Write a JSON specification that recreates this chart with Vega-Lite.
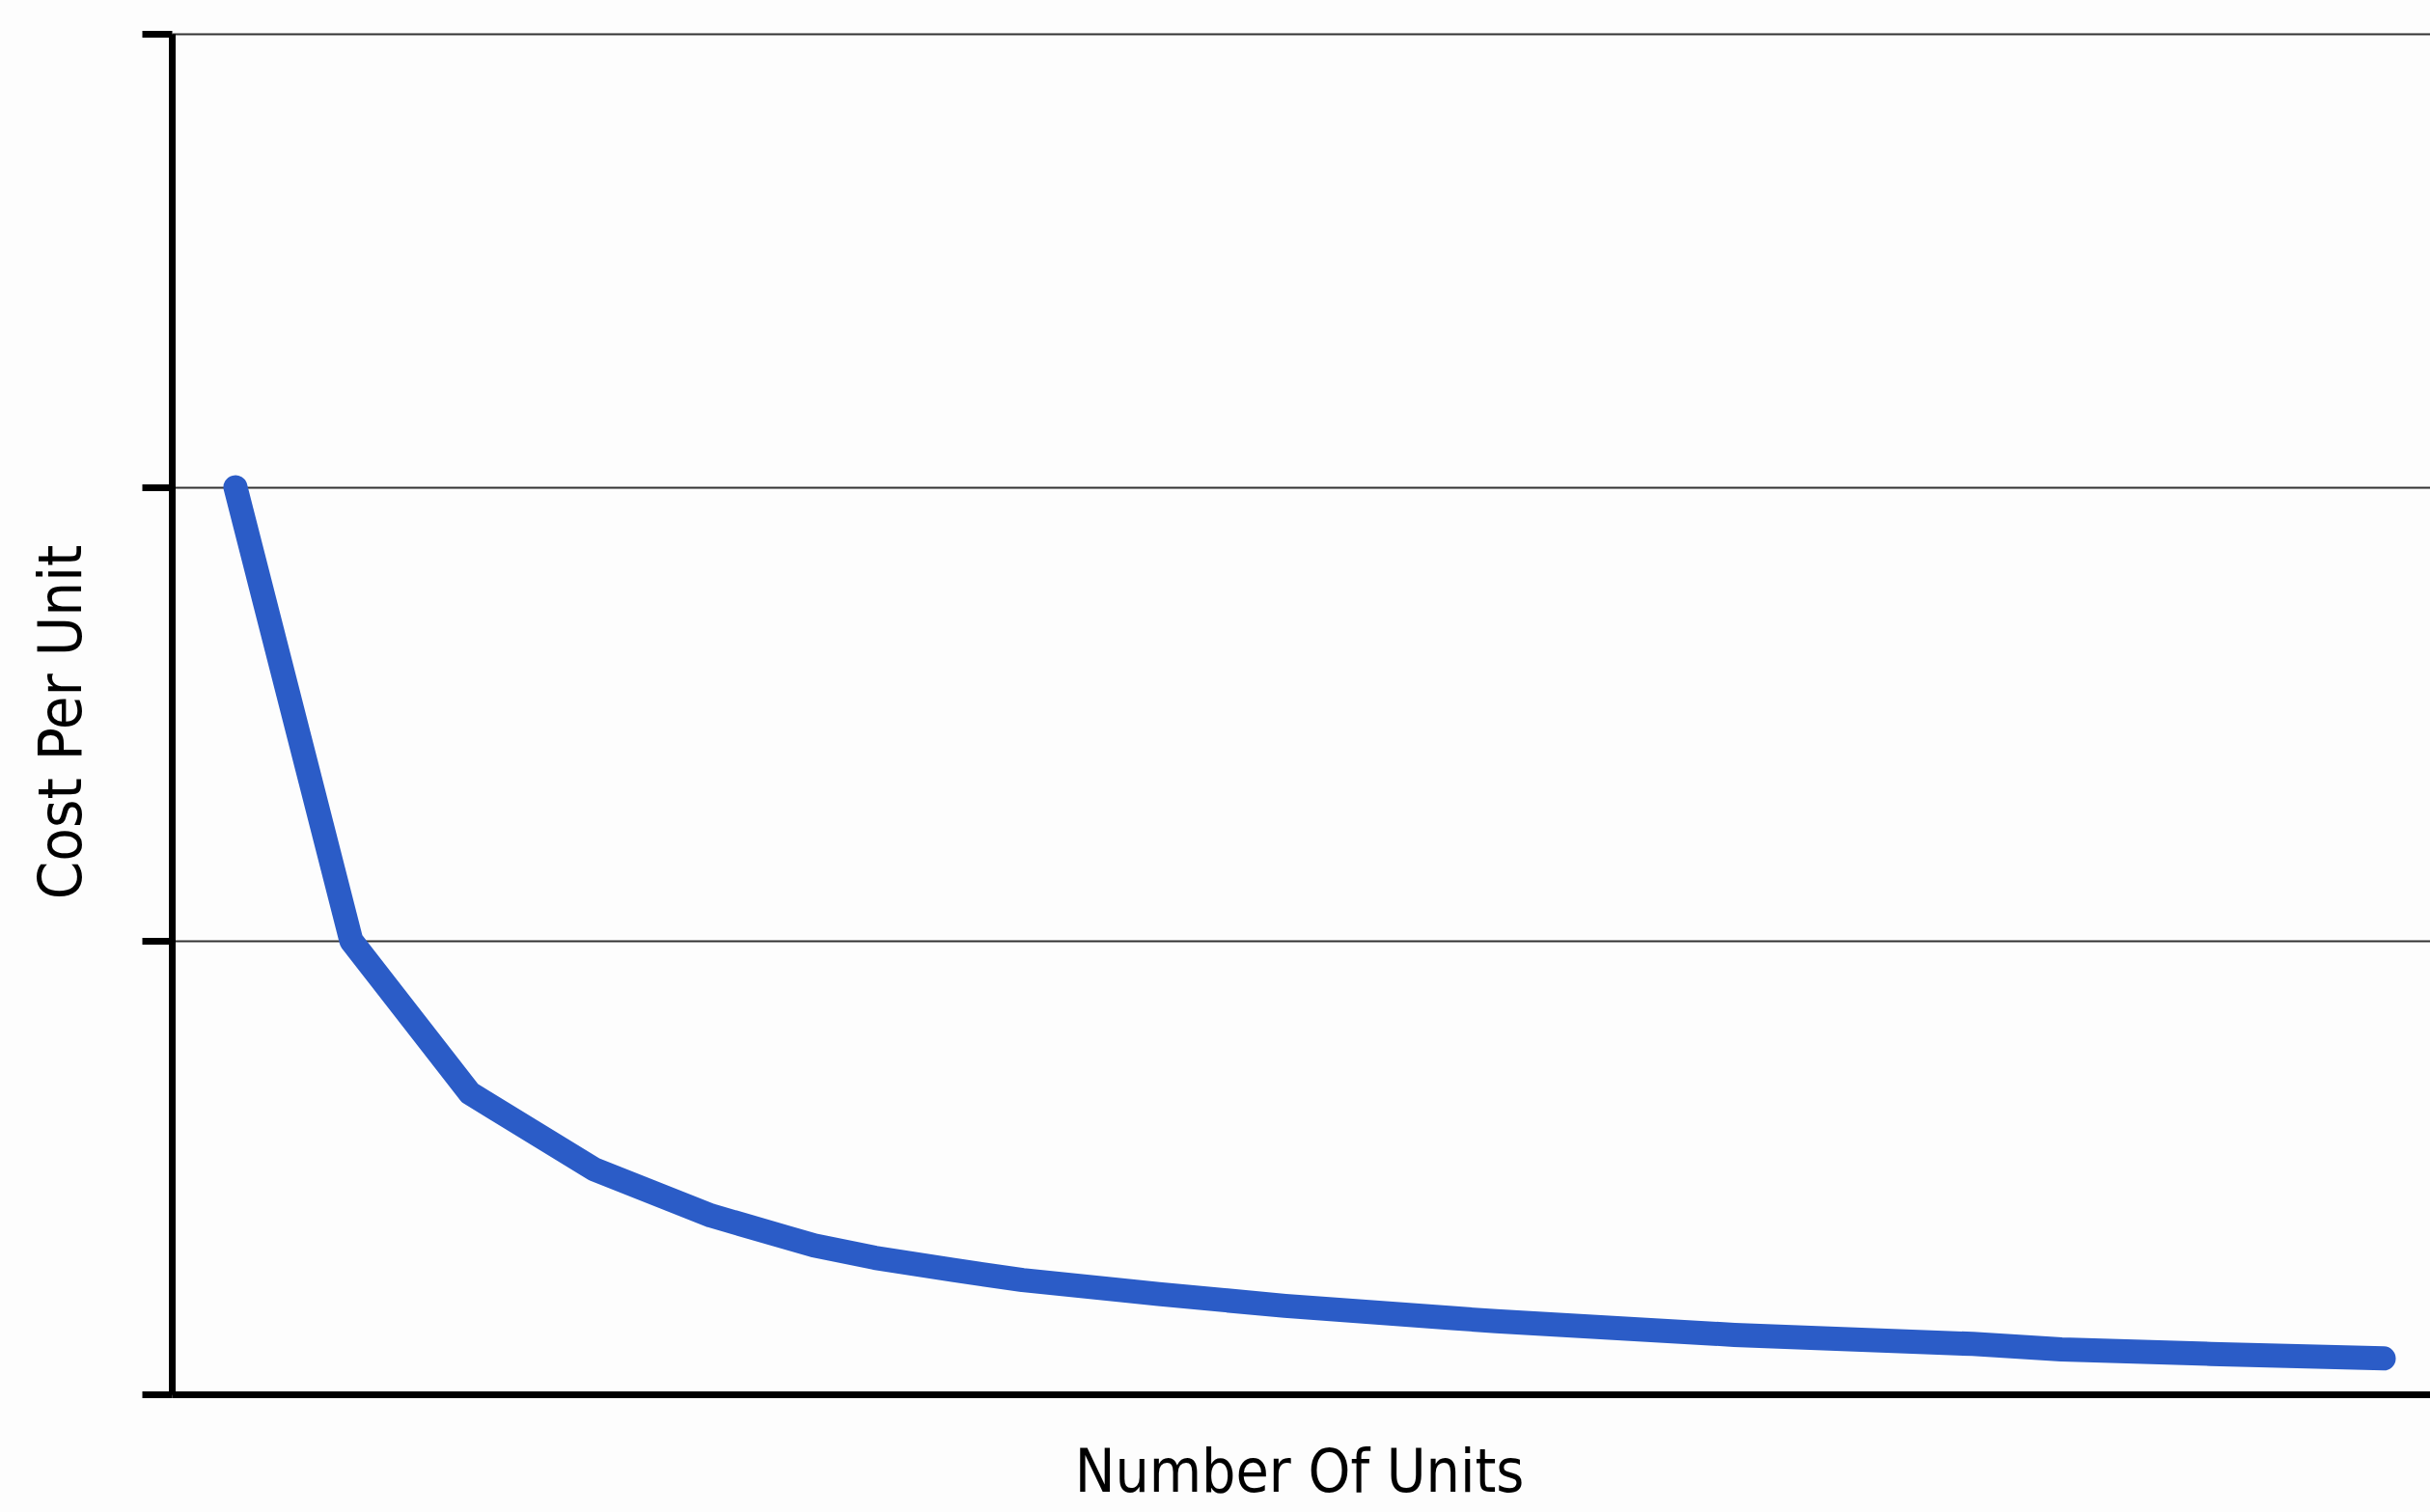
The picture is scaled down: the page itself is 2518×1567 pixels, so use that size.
{
  "$schema": "https://vega.github.io/schema/vega-lite/v6.json",
  "autosize": {"type": "none"},
  "width": 2340,
  "height": 1410,
  "padding": {"left": 178, "top": 35, "right": 0, "bottom": 122},
  "background": "#fdfdfd",
  "config": {
    "view": {"stroke": null},
    "font": "DejaVu Sans Condensed, sans-serif"
  },
  "data": {
    "values": [
      {"units": 2.82, "cost": 2.0},
      {"units": 7.95, "cost": 1.0},
      {"units": 13.2, "cost": 0.664},
      {"units": 18.71, "cost": 0.496},
      {"units": 23.88, "cost": 0.394},
      {"units": 28.45, "cost": 0.328},
      {"units": 31.14, "cost": 0.301},
      {"units": 34.6, "cost": 0.274},
      {"units": 37.68, "cost": 0.252},
      {"units": 41.95, "cost": 0.23},
      {"units": 43.7, "cost": 0.221},
      {"units": 49.3, "cost": 0.195},
      {"units": 56.69, "cost": 0.168},
      {"units": 58.65, "cost": 0.161},
      {"units": 69.2, "cost": 0.131},
      {"units": 79.75, "cost": 0.111},
      {"units": 83.68, "cost": 0.099},
      {"units": 90.3, "cost": 0.089},
      {"units": 97.95, "cost": 0.079}
    ]
  },
  "mark": {
    "type": "line",
    "color": "#2b5cc7",
    "strokeWidth": 25,
    "strokeCap": "round",
    "strokeJoin": "round"
  },
  "encoding": {
    "x": {
      "field": "units",
      "type": "quantitative",
      "scale": {"domain": [0, 100], "nice": false},
      "axis": {
        "title": "Number Of Units",
        "domain": true,
        "domainColor": "#000000",
        "domainWidth": 7,
        "ticks": false,
        "labels": false,
        "grid": false,
        "titleFont": "DejaVu Sans Condensed, sans-serif",
        "titleFontSize": 62,
        "titleFontWeight": "normal",
        "titleColor": "#000000",
        "titleBaseline": "alphabetic",
        "titleAlign": "center",
        "titleX": 1168,
        "titleY": 100
      }
    },
    "y": {
      "field": "cost",
      "type": "quantitative",
      "scale": {"domain": [0, 3], "nice": false},
      "axis": {
        "title": "Cost Per Unit",
        "values": [0, 1, 2, 3],
        "domain": true,
        "domainColor": "#000000",
        "domainWidth": 7,
        "ticks": true,
        "tickColor": "#000000",
        "tickWidth": 7,
        "tickSize": 31,
        "labels": false,
        "grid": true,
        "gridColor": "#333333",
        "gridWidth": 2,
        "titleFont": "DejaVu Sans Condensed, sans-serif",
        "titleFontSize": 63,
        "titleFontWeight": "normal",
        "titleColor": "#000000",
        "titleAngle": 270,
        "titleBaseline": "alphabetic",
        "titleAlign": "center",
        "titleX": -95,
        "titleY": 713
      }
    }
  }
}
